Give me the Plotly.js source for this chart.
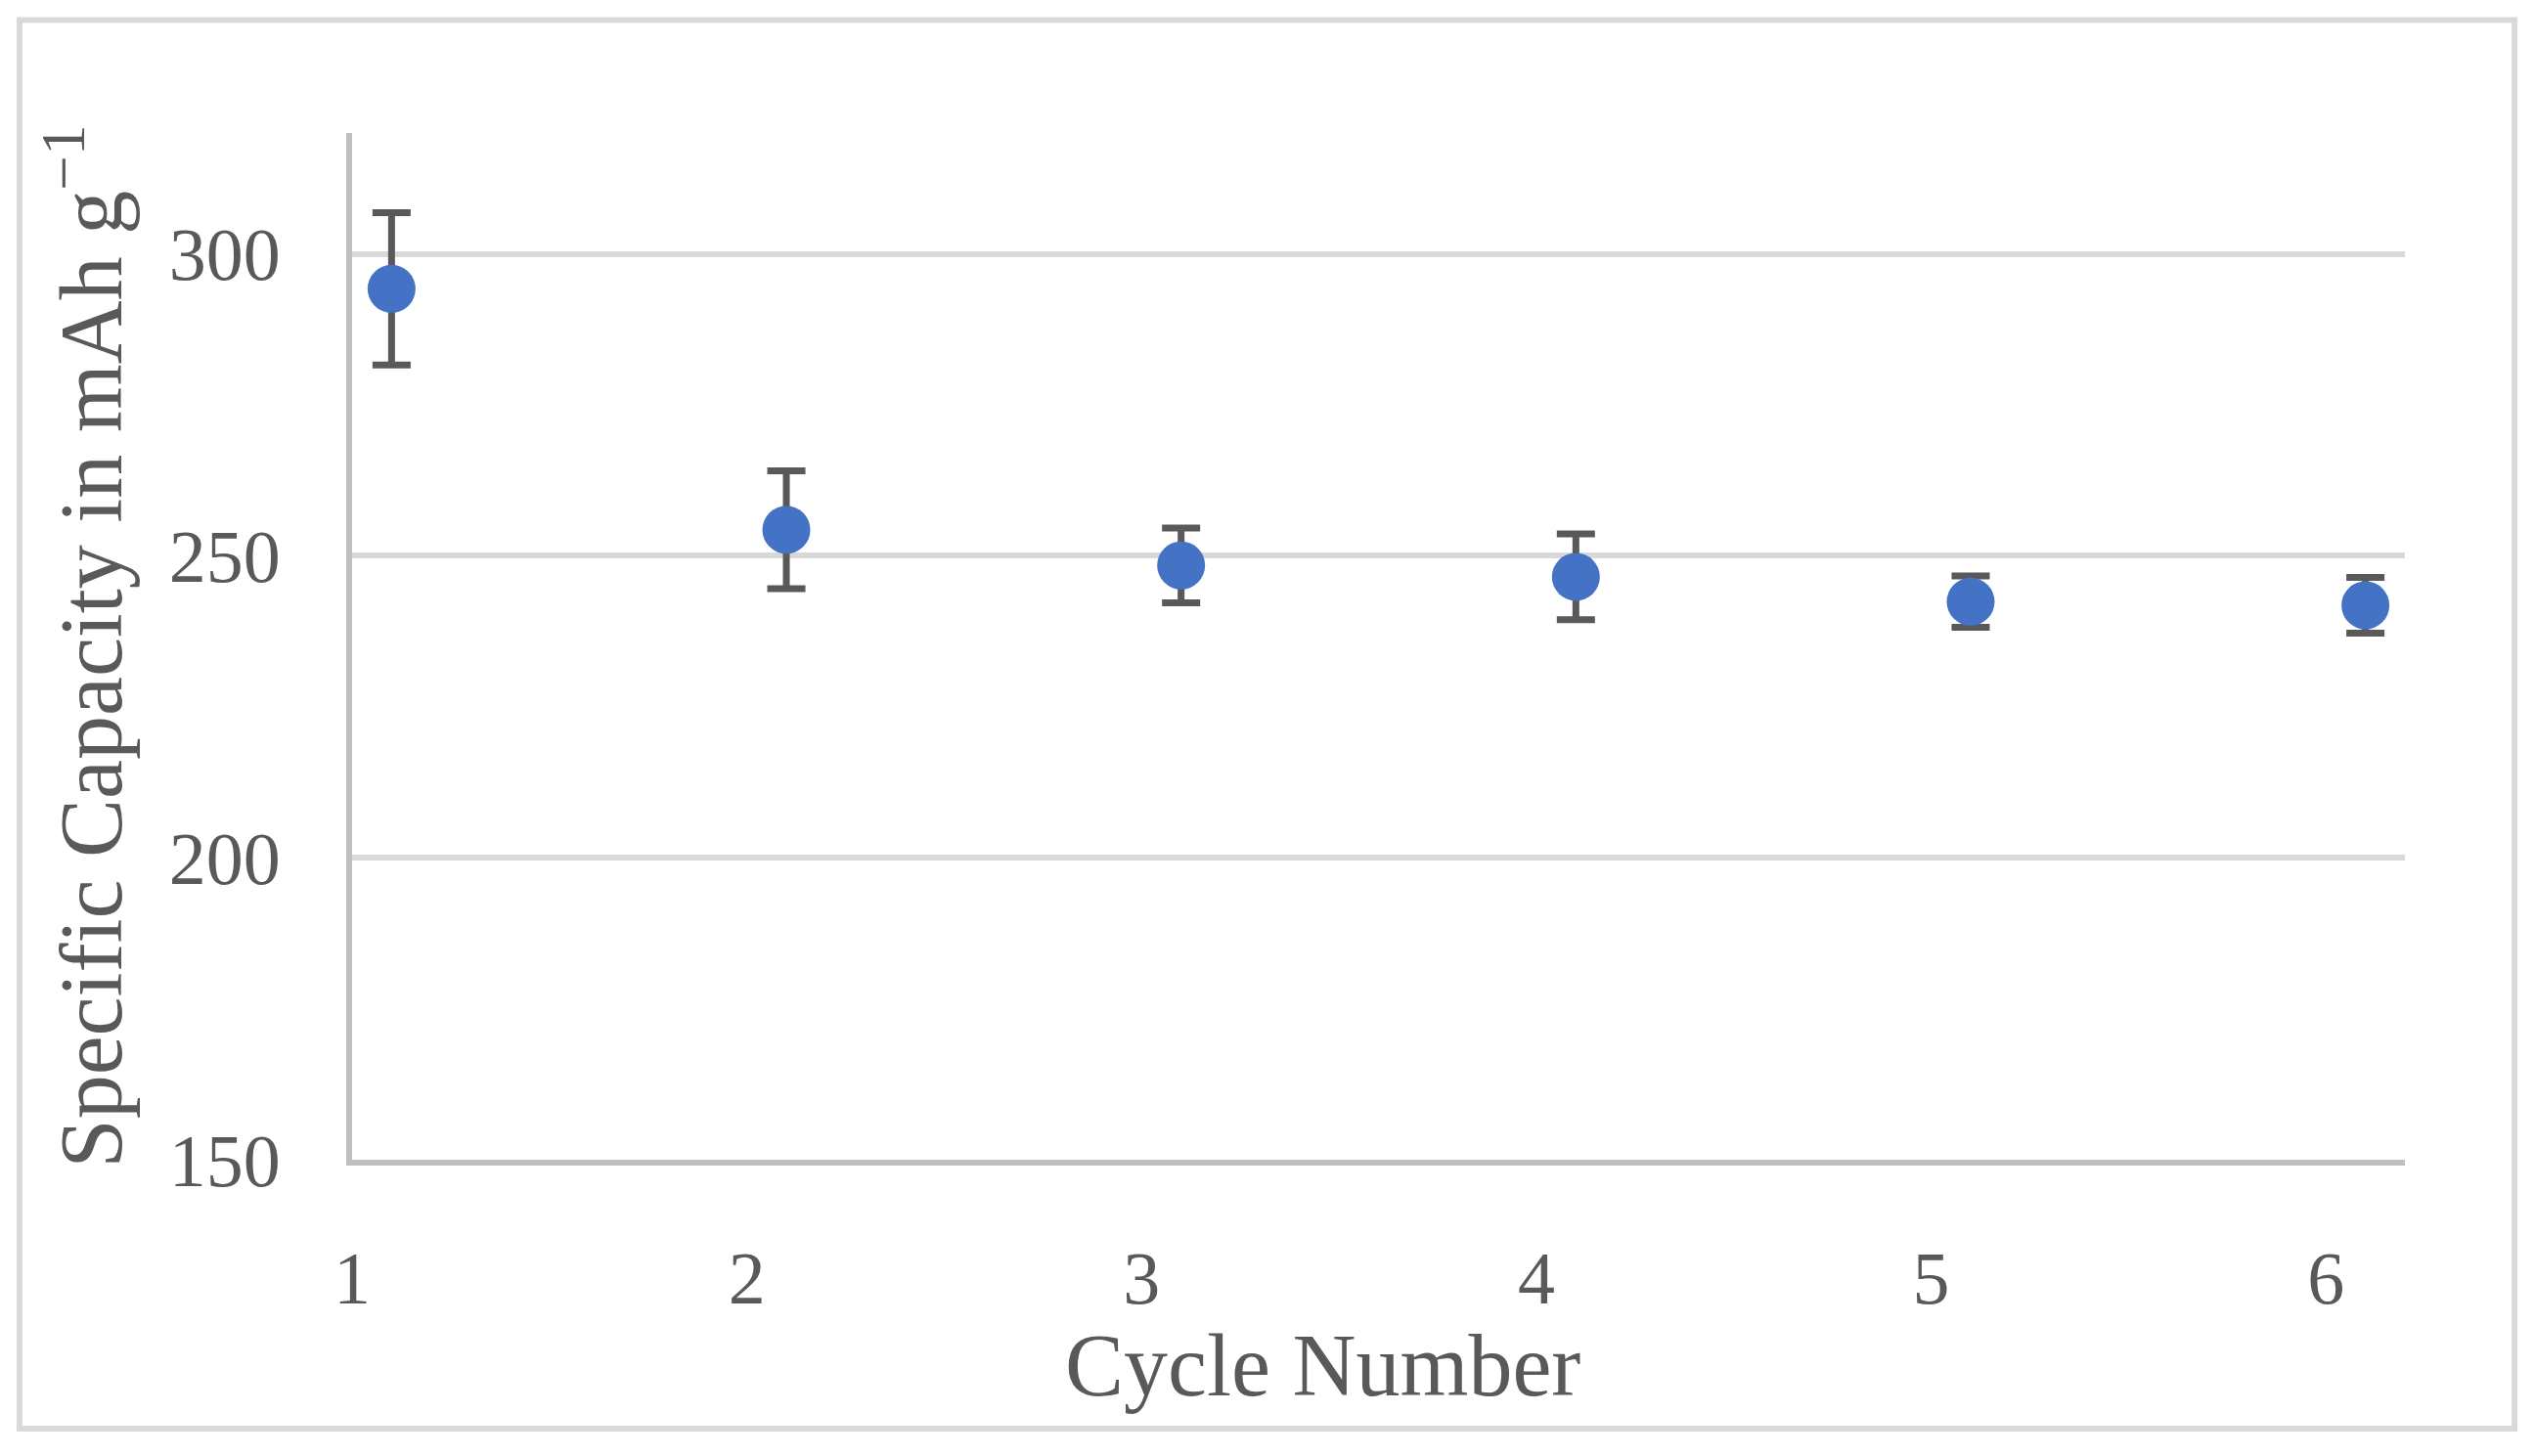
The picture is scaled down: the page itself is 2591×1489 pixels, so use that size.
<!DOCTYPE html>
<html>
<head>
<meta charset="utf-8">
<script src="https://cdn.plot.ly/plotly-3.0.1.min.js"></script>
<style>
  html, body { margin: 0; padding: 0; background: #ffffff; }
  #chart { width: 2591px; height: 1489px; }
</style>
</head>
<body>
<div id="chart"></div>
<script>
// ---- data ----
const tickCycles = [1, 2, 3, 4, 5, 6];
const tickLabels = ['1', '2', '3', '4', '5', '6'];
const pointCycles = [1.1, 2.1, 3.1, 4.1, 5.1, 6.1];
const capacity = [294.2, 254.3, 248.4, 246.5, 242.4, 241.8];
const capacityErr = [12.6, 9.75, 6.2, 7.1, 4.25, 4.6];
const yTicks = [150, 200, 250, 300];

const textColor = '#595959';
const fontFamily = '"Liberation Serif", "DejaVu Serif", serif';

const trace = {
  type: 'scatter',
  mode: 'markers',
  x: pointCycles,
  y: capacity,
  marker: { color: '#4472c4', size: 49 },
  error_y: {
    type: 'data',
    array: capacityErr,
    symmetric: true,
    visible: true,
    color: '#595959',
    thickness: 7,
    width: 19.5
  },
  showlegend: false,
  hoverinfo: 'x+y'
};

const layout = {
  width: 2591,
  height: 1489,
  paper_bgcolor: '#ffffff',
  plot_bgcolor: '#ffffff',
  margin: { l: 360, r: 132, t: 135.5, b: 303 },
  showlegend: false,
  font: { family: fontFamily, color: textColor, size: 75 },
  xaxis: {
    range: [1, 6.2],
    tickmode: 'array',
    tickvals: tickCycles,
    ticktext: tickLabels,
    showgrid: false,
    zeroline: false,
    showline: true,
    linecolor: '#bfbfbf',
    linewidth: 6,
    ticks: '',
    ticklabelstandoff: 50,
    tickfont: { family: fontFamily, color: textColor, size: 76 },
    fixedrange: true
  },
  yaxis: {
    range: [150, 320],
    tickmode: 'array',
    tickvals: yTicks,
    ticktext: yTicks.map(String),
    showgrid: true,
    gridcolor: '#d9d9d9',
    gridwidth: 6,
    zeroline: false,
    showline: true,
    linecolor: '#bfbfbf',
    linewidth: 6,
    ticks: '',
    ticklabelstandoff: 52,
    tickfont: { family: fontFamily, color: textColor, size: 76 },
    title: {
      text: 'Specific Capacity in mAh g<sup>−1</sup>',
      font: { family: fontFamily, color: textColor, size: 90 },
      standoff: 20
    },
    fixedrange: true
  },
  annotations: [
    {
      text: 'Cycle Number',
      xref: 'paper', yref: 'paper',
      x: 0.4729, y: -0.2009,
      xanchor: 'center', yanchor: 'middle',
      showarrow: false,
      font: { family: fontFamily, color: textColor, size: 90 }
    }
  ],
  shapes: [
    {
      type: 'rect',
      xref: 'paper', yref: 'paper',
      x0: -0.162, x1: 1.0534,
      y0: -0.2618, y1: 1.110,
      line: { color: '#d9d9d9', width: 6 },
      fillcolor: 'rgba(0,0,0,0)',
      layer: 'below'
    }
  ]
};

Plotly.newPlot('chart', [trace], layout, { displayModeBar: false, staticPlot: true });
</script>
</body>
</html>
